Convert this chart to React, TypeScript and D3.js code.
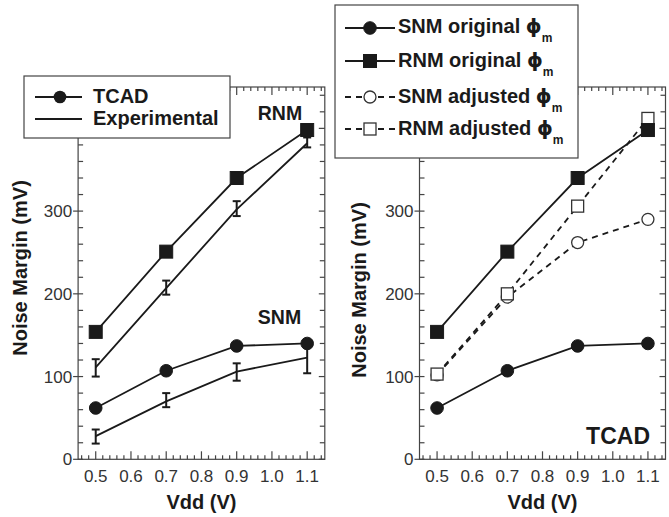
import React from 'react';
import * as d3 from 'd3';

const vdd = [0.5, 0.7, 0.9, 1.1];
const tcadSnm = [62, 107, 137, 140];
const tcadRnm = [154, 251, 340, 398];
const expSnm = [28, 70, 106, 123];
const expSnmLo = [19, 63, 95, 104];
const expSnmHi = [36, 80, 116, 140];
const expRnm = [111, 207, 302, 382];
const expRnmLo = [100, 199, 294, 377];
const expRnmHi = [121, 216, 312, 389];
const snmAdjusted = [102, 196, 262, 290];
const rnmAdjusted = [103, 200, 306, 412];

const xTicks = [0.5, 0.6, 0.7, 0.8, 0.9, 1.0, 1.1];
const yTicks = [0, 100, 200, 300];

const FONT = "'Liberation Sans', Arial, sans-serif";
const INK = '#1a1a1a';
const AXIS = '#444';

function Frame({ x, y }: { x: d3.ScaleLinear<number, number>; y: d3.ScaleLinear<number, number> }) {
  const [x0, x1] = x.range();
  const [y0, y1] = y.range();
  const minorX = d3.range(0.46, 1.15, 0.02).filter(v => Math.abs(Math.round(v * 10) - v * 10) > 0.01);
  const minorY = d3.range(20, 450, 20).filter(v => v % 100 !== 0);
  const majorYAll = [0, 100, 200, 300, 400];
  return (
    <g stroke={AXIS} strokeWidth={1.2} fill="none">
      <rect x={x0} y={y1} width={x1 - x0} height={y0 - y1} />
      {xTicks.map(v => (
        <g key={'xm' + v}>
          <line x1={x(v)} x2={x(v)} y1={y0} y2={y0 - 8} />
          <line x1={x(v)} x2={x(v)} y1={y1} y2={y1 + 8} />
        </g>
      ))}
      {minorX.map(v => (
        <g key={'xn' + v}>
          <line x1={x(v)} x2={x(v)} y1={y0} y2={y0 - 4} />
          <line x1={x(v)} x2={x(v)} y1={y1} y2={y1 + 4} />
        </g>
      ))}
      {majorYAll.map(v => (
        <g key={'ym' + v}>
          <line x1={x0 - 5} x2={x0 + 5} y1={y(v)} y2={y(v)} />
          <line x1={x1} x2={x1 - 6} y1={y(v)} y2={y(v)} />
        </g>
      ))}
      {minorY.map(v => (
        <g key={'yn' + v}>
          <line x1={x0} x2={x0 + 5} y1={y(v)} y2={y(v)} />
          <line x1={x1} x2={x1 - 5} y1={y(v)} y2={y(v)} />
        </g>
      ))}
    </g>
  );
}

function Labels({ x, y, titleX, titleY }: { x: d3.ScaleLinear<number, number>; y: d3.ScaleLinear<number, number>; titleX: number; titleY: number }) {
  const [x0, x1] = x.range();
  const [y0] = y.range();
  return (
    <g fontFamily={FONT} fill="#333">
      {xTicks.map(v => (
        <text key={'xl' + v} x={x(v)} y={y0 + 23} textAnchor="middle" fontSize={17}>{v.toFixed(1)}</text>
      ))}
      {yTicks.map(v => (
        <text key={'yl' + v} x={x0 - 6} y={y(v) + 6} textAnchor="end" fontSize={17}>{v}</text>
      ))}
      <text x={(x0 + x1) / 2} y={y0 + 50} textAnchor="middle" fontSize={20} fontWeight="bold" fill={INK}>Vdd (V)</text>
      <text transform={`translate(${titleX},${titleY}) rotate(-90)`} textAnchor="middle" fontSize={20} fontWeight="bold" fill={INK}>Noise Margin (mV)</text>
    </g>
  );
}

function Square({ cx, cy, s, filled }: { cx: number; cy: number; s: number; filled: boolean }) {
  return <rect x={cx - s / 2} y={cy - s / 2} width={s} height={s} fill={filled ? INK : 'white'} stroke={filled ? INK : '#333'} strokeWidth={filled ? 1 : 1.3} />;
}

function Circle({ cx, cy, r, filled }: { cx: number; cy: number; r: number; filled: boolean }) {
  return <circle cx={cx} cy={cy} r={r} fill={filled ? INK : 'white'} stroke={filled ? INK : '#333'} strokeWidth={filled ? 1 : 1.3} />;
}

export default function App() {
  const yL = d3.scaleLinear().domain([0, 450]).range([459.3, 87]);
  const xL = d3.scaleLinear().domain([0.45, 1.15]).range([78.1, 324.8]);
  const xR = d3.scaleLinear().domain([0.45, 1.15]).range([419.5, 665.5]);
  const yR = d3.scaleLinear().domain([0, 450]).range([459.3, 87]);

  const line = (xs: d3.ScaleLinear<number, number>, ys: d3.ScaleLinear<number, number>, vals: number[]) =>
    d3.line<number>().x((_, i) => xs(vdd[i])).y(v => ys(v))(vals) as string;

  const errorBars = (vals: number[], lo: number[], hi: number[]) =>
    vals.map((_, i) => {
      const cx = xL(vdd[i]);
      return (
        <g key={'e' + i} stroke={INK} strokeWidth={2}>
          <line x1={cx} x2={cx} y1={yL(lo[i])} y2={yL(hi[i])} />
          <line x1={cx - 4} x2={cx + 4} y1={yL(lo[i])} y2={yL(lo[i])} />
          <line x1={cx - 4} x2={cx + 4} y1={yL(hi[i])} y2={yL(hi[i])} />
        </g>
      );
    });

  const phiRow = (label: string, y: number) => (
    <text x={398} y={y + 6} fontFamily={FONT} fontSize={20} fontWeight="bold" fill={INK}>
      {label} <tspan fontFamily="'DejaVu Sans', sans-serif">ϕ</tspan>
      <tspan fontSize={12} dy={9}>m</tspan>
    </text>
  );

  return (
    <svg width={669} height={517} style={{ position: 'absolute', left: 0, top: 0, background: 'white' }}>
      {/* left panel */}
      <Frame x={xL} y={yL} />
      <Labels x={xL} y={yL} titleX={27} titleY={268} />
      <g fill="none" stroke={INK} strokeWidth={1.8}>
        <path d={line(xL, yL, tcadRnm)} />
        <path d={line(xL, yL, tcadSnm)} />
        <path d={line(xL, yL, expRnm)} />
        <path d={line(xL, yL, expSnm)} />
      </g>
      {errorBars(expRnm, expRnmLo, expRnmHi)}
      {errorBars(expSnm, expSnmLo, expSnmHi)}
      {tcadRnm.map((v, i) => <Square key={'lr' + i} cx={xL(vdd[i])} cy={yL(v)} s={13} filled />)}
      {tcadSnm.map((v, i) => <Circle key={'ls' + i} cx={xL(vdd[i])} cy={yL(v)} r={6.3} filled />)}
      <text x={280} y={120} textAnchor="middle" fontFamily={FONT} fontSize={19.5} fontWeight="bold" fill={INK}>RNM</text>
      <text x={279.5} y={324} textAnchor="middle" fontFamily={FONT} fontSize={19.5} fontWeight="bold" fill={INK}>SNM</text>

      {/* left legend */}
      <rect x={24} y={76} width={206} height={62} fill="white" stroke={AXIS} strokeWidth={1.2} />
      <line x1={35} x2={82} y1={97} y2={97} stroke={INK} strokeWidth={1.8} />
      <circle cx={60} cy={97} r={6.3} fill={INK} />
      <text x={93} y={103} fontFamily={FONT} fontSize={20} fontWeight="bold" fill={INK}>TCAD</text>
      <line x1={35} x2={82} y1={119} y2={119} stroke={INK} strokeWidth={1.8} />
      <text x={93} y={125} fontFamily={FONT} fontSize={20} fontWeight="bold" fill={INK}>Experimental</text>

      {/* right panel */}
      <Frame x={xR} y={yR} />
      <Labels x={xR} y={yR} titleX={366} titleY={290} />
      <g fill="none" stroke={INK} strokeWidth={1.8}>
        <path d={line(xR, yR, snmAdjusted)} strokeDasharray="6,5" />
        <path d={line(xR, yR, rnmAdjusted)} strokeDasharray="6,5" />
      </g>
      {snmAdjusted.map((v, i) => <Circle key={'ra' + i} cx={xR(vdd[i])} cy={yR(v)} r={6} filled={false} />)}
      {rnmAdjusted.map((v, i) => <Square key={'rs' + i} cx={xR(vdd[i])} cy={yR(v)} s={12} filled={false} />)}
      <g fill="none" stroke={INK} strokeWidth={1.8}>
        <path d={line(xR, yR, tcadSnm)} />
        <path d={line(xR, yR, tcadRnm)} />
      </g>
      {tcadSnm.map((v, i) => <Circle key={'rc' + i} cx={xR(vdd[i])} cy={yR(v)} r={6.3} filled />)}
      {tcadRnm.map((v, i) => <Square key={'rq' + i} cx={xR(vdd[i])} cy={yR(v)} s={13} filled />)}
      <text x={650} y={444} textAnchor="end" fontFamily={FONT} fontSize={23} fontWeight="bold" fill={INK}>TCAD</text>

      {/* right legend */}
      <rect x={335} y={5} width={243} height={153} fill="white" stroke={AXIS} strokeWidth={1.2} />
      <line x1={345} x2={395} y1={28} y2={28} stroke={INK} strokeWidth={1.8} />
      <Circle cx={370} cy={28} r={6.3} filled />
      {phiRow('SNM original', 27)}
      <line x1={345} x2={395} y1={61} y2={61} stroke={INK} strokeWidth={1.8} />
      <Square cx={370} cy={61} s={13} filled />
      {phiRow('RNM original', 61)}
      <line x1={345} x2={395} y1={97} y2={97} stroke={INK} strokeWidth={1.8} strokeDasharray="6,5" />
      <Circle cx={370} cy={97} r={6} filled={false} />
      {phiRow('SNM adjusted', 97)}
      <line x1={345} x2={395} y1={129} y2={129} stroke={INK} strokeWidth={1.8} strokeDasharray="6,5" />
      <Square cx={370} cy={129} s={12} filled={false} />
      {phiRow('RNM adjusted', 129)}
    </svg>
  );
}
